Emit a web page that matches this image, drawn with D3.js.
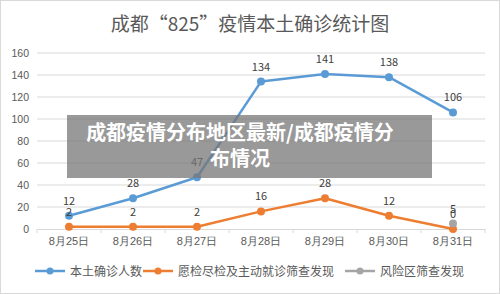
<!DOCTYPE html>
<html>
<head>
<meta charset="utf-8">
<script src="https://cdn.jsdelivr.net/npm/d3@7/dist/d3.min.js"></script>
<style>
  body { margin: 0; background: #fff; }
  svg { display: block; font-family: "Noto Sans CJK SC", "DejaVu Sans", sans-serif; }
</style>
</head>
<body>
<svg width="500" height="294" id="mainsvg"></svg>
<script>
// data
const dates = ['8月25日', '8月26日', '8月27日', '8月28日', '8月29日', '8月30日', '8月31日'];
const localCases = [12, 28, 47, 134, 141, 138, 106];
const screening = [2, 2, 2, 16, 28, 12, 0];
const riskArea = [null, null, null, null, null, null, 5];
const seriesNames = ['本土确诊人数', '愿检尽检及主动就诊筛查发现', '风险区筛查发现'];
const yTicks = [0, 20, 40, 60, 80, 100, 120, 140, 160];

const colors = ['#5b9bd5', '#ed7d31', '#a5a5a5'];
const allSeries = [localCases, screening, riskArea];

const svg = d3.select('#mainsvg');
const width = +svg.attr('width');
const height = +svg.attr('height');

// light frame
svg.append('rect').attr('x', 0.5).attr('y', 0.5).attr('width', width - 1).attr('height', height - 1)
    .attr('fill', '#fff').attr('stroke', '#d9d9d9');

svg.append('text').attr('x', 250).attr('y', 31).attr('text-anchor', 'middle')
    .attr('font-size', 19).attr('fill', '#595959').text('成都“825”疫情本土确诊统计图');

const margin = { top: 53, left: 37 };
const innerH = 229 - margin.top;
const g = svg.append('g').attr('transform', `translate(${margin.left},${margin.top})`);

const x = d3.scaleBand().domain(dates).range([0, 448]);
const y = d3.scaleLinear().domain([0, 160]).range([innerH, 0]);

// grid
g.selectAll('.grid').data(yTicks.filter(d => d > 0)).enter().append('line')
    .attr('x1', 0).attr('x2', 448).attr('y1', d => y(d)).attr('y2', d => y(d))
    .attr('stroke', '#d9d9d9').attr('stroke-width', 1);

// y axis labels
const yAxis = d3.axisLeft(y).tickValues(yTicks).tickSize(0).tickPadding(8);
const yG = g.append('g').call(yAxis);
yG.select('.domain').remove();
yG.selectAll('text').attr('font-size', 10.5).attr('fill', '#595959');

// x axis
const xAxis = d3.axisBottom(x).tickSize(0).tickPadding(8);
const xG = g.append('g').attr('transform', `translate(0,${innerH})`).call(xAxis);
xG.select('.domain').attr('stroke', '#d9d9d9');
xG.selectAll('text').attr('font-size', 11).attr('fill', '#595959');
// small separators between categories
xG.selectAll('.sep').data(d3.range(dates.length + 1)).enter().append('line')
    .attr('x1', i => i * x.bandwidth()).attr('x2', i => i * x.bandwidth())
    .attr('y1', 0).attr('y2', 4).attr('stroke', '#d9d9d9');

const cx = d => x(d) + x.bandwidth() / 2;
const line = d3.line().defined(d => d[1] !== null).x(d => cx(d[0])).y(d => y(d[1]));

allSeries.forEach((vals, si) => {
    const pts = dates.map((d, i) => [d, vals[i]]);
    g.append('path').datum(pts).attr('d', line).attr('fill', 'none')
        .attr('stroke', colors[si]).attr('stroke-width', 2.5).attr('stroke-linejoin', 'round');
    const valid = pts.filter(p => p[1] !== null);
    g.selectAll('.pt' + si).data(valid).enter().append('circle')
        .attr('cx', p => cx(p[0])).attr('cy', p => y(p[1])).attr('r', 4).attr('fill', colors[si]);
    g.selectAll('.lb' + si).data(valid).enter().append('text')
        .attr('x', p => cx(p[0])).attr('y', p => y(p[1]) - 11)
        .attr('text-anchor', 'middle').attr('font-size', 11).attr('fill', '#404040')
        .text(p => p[1]);
});

// legend
const legendX = [35, 143, 345];
const lg = svg.append('g').attr('transform', 'translate(0,271)');
seriesNames.forEach((name, i) => {
    const item = lg.append('g').attr('transform', `translate(${legendX[i]},0)`);
    item.append('line').attr('x1', 0).attr('x2', 30).attr('y1', 0).attr('y2', 0)
        .attr('stroke', colors[i]).attr('stroke-width', 2.5);
    item.append('circle').attr('cx', 15).attr('cy', 0).attr('r', 3.5).attr('fill', colors[i]);
    item.append('text').attr('x', 35).attr('y', 4.5).attr('font-size', 12).attr('fill', '#595959').text(name);
});

// overlay banner
svg.append('rect').attr('x', 67).attr('y', 115).attr('width', 365).attr('height', 63)
    .attr('fill', '#777').attr('opacity', 0.75);
const banner = svg.append('text').attr('text-anchor', 'middle').attr('fill', '#fff')
    .attr('font-size', 20).attr('font-weight', 'bold');
banner.append('tspan').attr('x', 240).attr('y', 140).text('成都疫情分布地区最新/成都疫情分');
banner.append('tspan').attr('x', 240).attr('y', 166).text('布情况');
</script>
</body>
</html>
